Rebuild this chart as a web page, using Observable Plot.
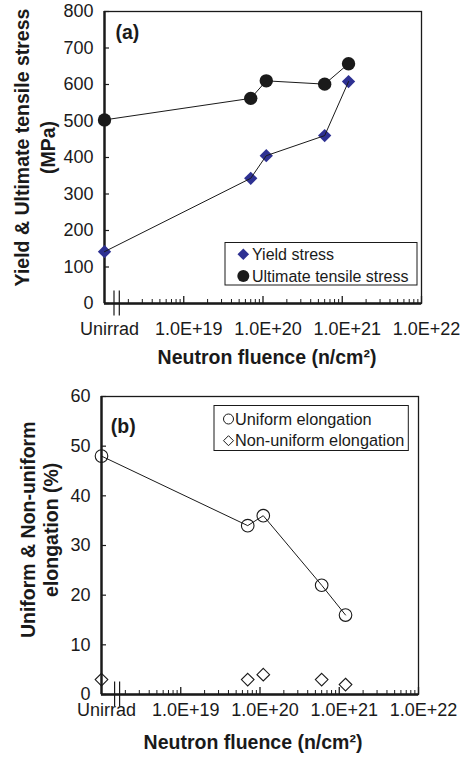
<!DOCTYPE html>
<html><head><meta charset="utf-8">
<script src="https://cdn.jsdelivr.net/npm/d3@7"></script>
<script src="https://cdn.jsdelivr.net/npm/@observablehq/plot@0.6"></script>
<style>
body{margin:0;background:#fff;}
#chart{width:461px;}
#chart svg{display:block;}
</style></head><body><div id="chart"></div>
<script>
// ---- data ----
const unirradPosition = 1e18; // "Unirrad" is drawn at the left end of the log axis
const fluence = [unirradPosition, 7e19, 1.1e20, 6e20, 1.2e21];
const yieldStress = [142, 343, 405, 460, 608];
const ultimateStress = [503, 562, 610, 601, 657];
const uniformElongation = [48, 34, 36, 22, 16];
const nonUniformElongation = [3, 3, 4, 3, 2];
const xTickValues = [1e18, 1e19, 1e20, 1e21, 1e22];
const xTickLabels = ["Unirrad", "1.0E+19", "1.0E+20", "1.0E+21", "1.0E+22"];
const stressTicks = [0, 100, 200, 300, 400, 500, 600, 700, 800];
const elongationTicks = [0, 10, 20, 30, 40, 50, 60];
const xTitle = "Neutron fluence (n/cm²)";
const stressTitle = ["Yield & Ultimate tensile stress", "(MPa)"];
const elongationTitle = ["Uniform & Non-uniform", "elongation (%)"];
const stressSeries = ["Yield stress", "Ultimate tensile stress"];
const elongationSeries = ["Uniform elongation", "Non-uniform elongation"];

const minorTicks = [];
for (let e = 18; e < 22; e++) for (let m = 2; m <= 9; m++) minorTicks.push(m * Math.pow(10, e));

const INK = "#1a1a1a";
const BLUE = "#2e3192";
const FONT = "'Liberation Sans', Arial, Helvetica, sans-serif";

function diamondPath(h) { return `M0,${-h}L${h},0L0,${h}L${-h},0Z`; }

function breakMark(offsets) {
  return (index, scales, values, dims) => {
    const g = d3.create("svg:g").attr("stroke", INK).attr("stroke-width", 1.2);
    const y0 = dims.height - dims.marginBottom;
    for (const off of offsets) {
      g.append("line")
        .attr("x1", dims.marginLeft + off).attr("x2", dims.marginLeft + off)
        .attr("y1", y0 - 12.5).attr("y2", y0 + 12.5);
    }
    return g.node();
  };
}

function legendMark({left, top, w, h, symX, textX, rows, fontSize, items}) {
  return (index, scales, values, dims) => {
    const g = d3.create("svg:g");
    const x0 = dims.marginLeft + left, y0 = dims.marginTop + top;
    g.append("rect").attr("x", x0).attr("y", y0).attr("width", w).attr("height", h)
      .attr("fill", "white").attr("stroke", INK).attr("stroke-width", 1);
    items.forEach((it, i) => {
      const cy = y0 + rows[i];
      if (it.symbol === "circle") {
        g.append("circle").attr("cx", x0 + symX).attr("cy", cy).attr("r", it.size)
          .attr("fill", it.fill).attr("stroke", it.stroke).attr("stroke-width", 1);
      } else {
        g.append("path").attr("transform", `translate(${x0 + symX},${cy})`).attr("d", diamondPath(it.size))
          .attr("fill", it.fill).attr("stroke", it.stroke).attr("stroke-width", 1);
      }
      g.append("text").attr("x", x0 + textX).attr("y", cy).attr("dy", "0.35em")
        .attr("text-anchor", "start")
        .attr("font-size", fontSize).attr("fill", INK).attr("font-family", FONT).text(it.label);
    });
    return g.node();
  };
}

function panel(o) {
  const width = 461;
  const plotW = width - o.marginLeft - o.marginRight;
  const plotH = o.height - o.marginTop - o.marginBottom;
  return Plot.plot({
    width, height: o.height,
    marginTop: o.marginTop, marginBottom: o.marginBottom, marginLeft: o.marginLeft, marginRight: o.marginRight,
    style: {fontFamily: FONT, fontSize: "18px", color: INK, background: "white", overflow: "visible"},
    x: {type: "log", domain: [xTickValues[0], xTickValues[xTickValues.length - 1]], axis: null},
    y: {domain: [o.yTicks[0], o.yTicks[o.yTicks.length - 1]], axis: null},
    marks: [
      Plot.frame({stroke: INK, strokeWidth: 1.3}),
      Plot.ruleY([o.yTicks[0]], {stroke: INK, strokeWidth: 2.4}),
      Plot.ruleX([xTickValues[0]], {stroke: INK, strokeWidth: 2.4}),
      Plot.ruleX(minorTicks, {insetTop: plotH - 4, stroke: INK, strokeWidth: 1}),
      Plot.ruleX(xTickValues.slice(1), {insetTop: plotH - 7, stroke: INK, strokeWidth: 1.3}),
      Plot.ruleY(o.yTicks, {insetRight: plotW - 5, stroke: INK, strokeWidth: 1.2}),
      breakMark(o.breakX),
      Plot.text(xTickValues, {x: d => d, text: (d, i) => xTickLabels[i], frameAnchor: "bottom", dy: o.tickDy, dx: 5, fontSize: 18, fill: INK}),
      Plot.text(o.yTicks, {y: d => d, text: d => String(d), frameAnchor: "left", textAnchor: "end", dx: -11, fontSize: 18, fill: INK}),
      Plot.text([xTitle], {frameAnchor: "bottom", textAnchor: "middle", dy: o.titleDy, dx: o.titleDx, fontWeight: "bold", fontSize: 19.5, fill: INK}),
      Plot.text([o.yTitle.join("\n")], {frameAnchor: "left", textAnchor: "middle", rotate: -90, dx: o.yTitleDx, dy: o.yTitleDy, lineHeight: o.yTitleLH, fontWeight: "bold", fontSize: 19.5, fill: INK}),
      Plot.text([o.tag], {frameAnchor: "top-left", dx: o.tagDx, dy: o.tagDy, textAnchor: "start", fontWeight: "bold", fontSize: 19.5, fill: INK}),
      ...o.marks,
      o.legend
    ]
  });
}

const rowsA = fluence.map((f, i) => ({fluence: f, yieldStress: yieldStress[i], ultimateStress: ultimateStress[i]}));
const rowsB = fluence.map((f, i) => ({fluence: f, uniform: uniformElongation[i], nonUniform: nonUniformElongation[i]}));

const chartA = panel({
  height: 378, marginTop: 11, marginBottom: 75, marginLeft: 104, marginRight: 40,
  yTicks: stressTicks, tickDy: 31, titleDy: 60, titleDx: 4,
  yTitle: stressTitle, yTitleDx: -70.5, yTitleDy: -10, yTitleLH: 1.33,
  breakX: [10, 15.3], tag: "(a)", tagDx: 11, tagDy: 14,
  marks: [
    Plot.dot(rowsA, {x: "fluence", y: "ultimateStress", symbol: "circle", r: 6.7, fill: INK}),
    Plot.dot(rowsA, {x: "fluence", y: "yieldStress", symbol: "diamond2", r: 6, fill: BLUE}),
    Plot.line(rowsA, {x: "fluence", y: "ultimateStress", stroke: INK, strokeWidth: 1}),
    Plot.line(rowsA, {x: "fluence", y: "yieldStress", stroke: INK, strokeWidth: 1})
  ],
  legend: legendMark({left: 121, top: 231.5, w: 192, h: 42.5, symX: 18.3, textX: 27, rows: [11.8, 33.5], fontSize: 16,
    items: [
      {label: stressSeries[0], symbol: "diamond", size: 5.8, fill: BLUE, stroke: "none"},
      {label: stressSeries[1], symbol: "circle", size: 6, fill: INK, stroke: "none"}
    ]})
});

const chartB = panel({
  height: 383, marginTop: 18, marginBottom: 67, marginLeft: 101, marginRight: 43,
  yTicks: elongationTicks, tickDy: 21, titleDy: 54, titleDx: -7,
  yTitle: elongationTitle, yTitleDx: -62, yTitleDy: -15.7, yTitleLH: 1.18,
  breakX: [13.6, 18.6], tag: "(b)", tagDx: 9.3, tagDy: 23,
  marks: [
    Plot.dot(rowsB, {x: "fluence", y: "uniform", symbol: "circle", r: 6.3, fill: "none", stroke: INK, strokeWidth: 1.1}),
    Plot.dot(rowsB, {x: "fluence", y: "nonUniform", symbol: "diamond2", r: 5.7, fill: "none", stroke: INK, strokeWidth: 1.1}),
    Plot.line(rowsB, {x: "fluence", y: "uniform", stroke: INK, strokeWidth: 1})
  ],
  legend: legendMark({left: 113, top: 9.5, w: 194.3, h: 45, symX: 14.5, textX: 21, rows: [13.5, 35.2], fontSize: 16.3,
    items: [
      {label: elongationSeries[0], symbol: "circle", size: 5, fill: "none", stroke: INK},
      {label: elongationSeries[1], symbol: "diamond", size: 5, fill: "none", stroke: INK}
    ]})
});

document.getElementById("chart").append(chartA, chartB);
</script>
</body></html>
